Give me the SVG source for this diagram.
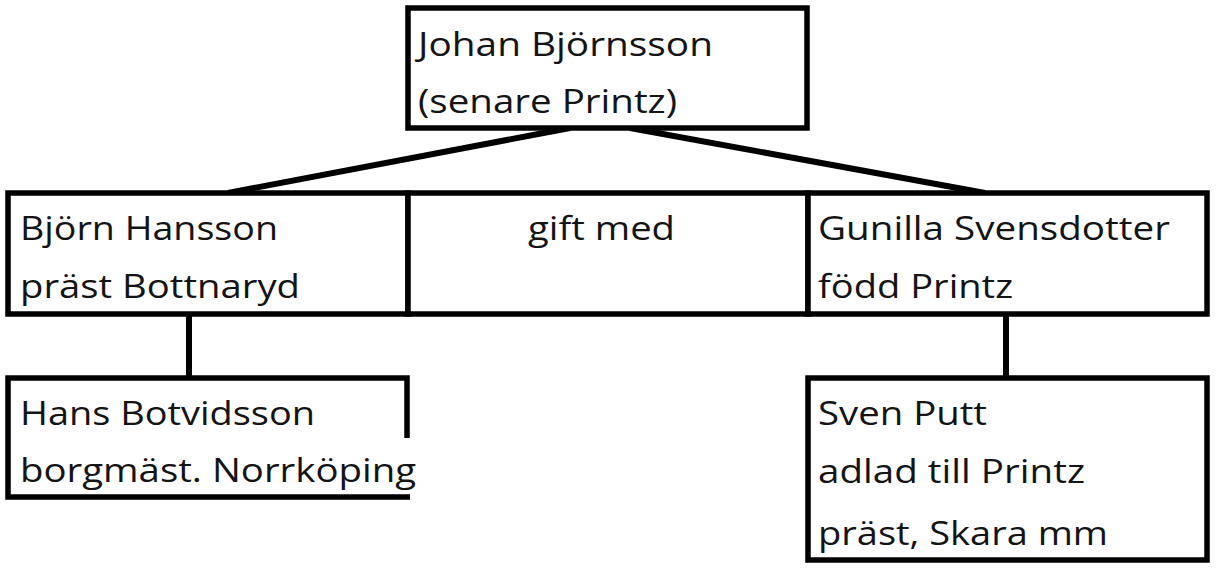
<svg xmlns="http://www.w3.org/2000/svg" width="1218" height="570" viewBox="0 0 1218 570">
<style>
.box{fill:#fff;stroke:#000;stroke-width:5.5}
.edge{fill:none;stroke:#000;stroke-width:6}
.t{font-family:"Open Sans","Noto Sans",sans-serif;font-size:32px;fill:#141414}
</style>
<rect width="1218" height="570" fill="#fff"/>
<g id="connectors">
<line class="edge" x1="570" y1="128" x2="228" y2="193"/>
<line class="edge" x1="630" y1="128" x2="985" y2="193"/>
<line class="edge" x1="189" y1="314" x2="189" y2="378"/>
<line class="edge" x1="1006" y1="314" x2="1006" y2="378"/>
</g>
<g id="johan">
<rect class="box" x="408" y="8" width="399" height="120"/>
<text class="t" x="418" y="56" textLength="295" lengthAdjust="spacingAndGlyphs">Johan Björnsson</text>
<text class="t" x="418" y="113" textLength="259" lengthAdjust="spacingAndGlyphs">(senare Printz)</text>
</g>
<g id="bjorn">
<rect class="box" x="8" y="193" width="400" height="121"/>
<text class="t" x="20" y="240" textLength="258" lengthAdjust="spacingAndGlyphs">Björn Hansson</text>
<text class="t" x="20" y="298" textLength="280" lengthAdjust="spacingAndGlyphs">präst Bottnaryd</text>
</g>
<g id="gift">
<rect class="box" x="408" y="193" width="400" height="121"/>
<text class="t" x="528" y="240" textLength="147" lengthAdjust="spacingAndGlyphs">gift med</text>
</g>
<g id="gunilla">
<rect class="box" x="808" y="193" width="399" height="121"/>
<text class="t" x="818" y="240" textLength="352" lengthAdjust="spacingAndGlyphs">Gunilla Svensdotter</text>
<text class="t" x="818" y="298" textLength="195" lengthAdjust="spacingAndGlyphs">född Printz</text>
</g>
<g id="hans">
<path class="box" d="M407,438 V378 H8 V497 H410" />
<text class="t" x="20" y="425" textLength="295" lengthAdjust="spacingAndGlyphs">Hans Botvidsson</text>
<text class="t" x="20" y="482" textLength="396" lengthAdjust="spacingAndGlyphs">borgmäst. Norrköping</text>
</g>
<g id="sven">
<rect class="box" x="808" y="378" width="399" height="182"/>
<text class="t" x="818" y="425" textLength="169" lengthAdjust="spacingAndGlyphs">Sven Putt</text>
<text class="t" x="818" y="483" textLength="267" lengthAdjust="spacingAndGlyphs">adlad till Printz</text>
<text class="t" x="818" y="545" textLength="290" lengthAdjust="spacingAndGlyphs">präst, Skara mm</text>
</g>
</svg>
